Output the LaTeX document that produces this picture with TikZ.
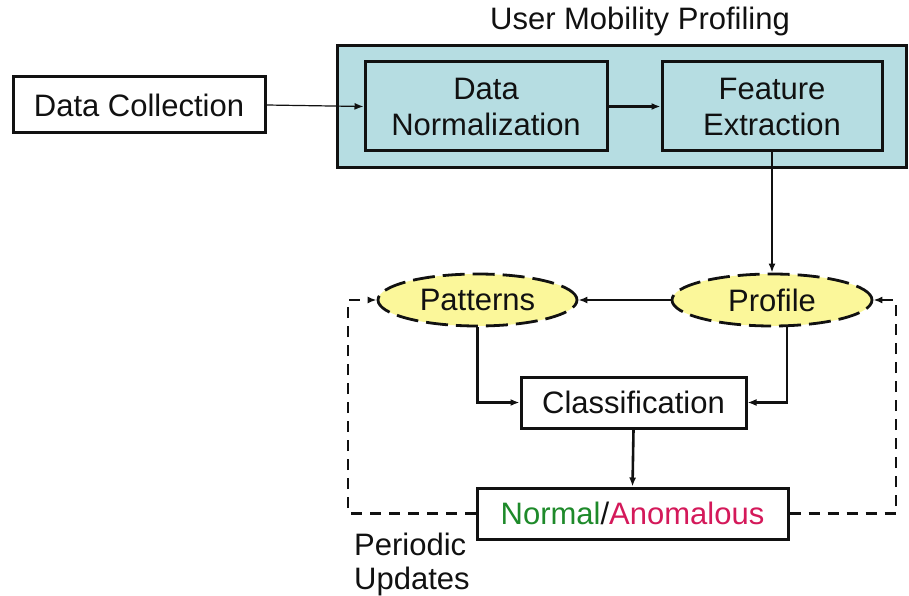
\documentclass[tikz,border=0pt]{standalone}
\usepackage{fontspec}
\setmainfont{Liberation Sans}
\usetikzlibrary{arrows.meta,shapes.geometric}
\definecolor{umteal}  {HTML}{B6DDE2}
\definecolor{umyellow}{HTML}{FBF79A}
\definecolor{umgreen} {HTML}{1E8A2A}
\definecolor{umred}   {HTML}{D4195A}
\definecolor{umink}   {HTML}{111111}
\tikzset{
  umfont/.style={font=\fontsize{31}{36}\selectfont, text=umink},
  umbox/.style={umfont, draw=umink, line width=3pt, inner sep=0pt,
    align=center},
  umoval/.style={umfont, ellipse, draw=umink, fill=umyellow, line width=2.8pt,
    dash pattern=on 22pt off 8pt, inner sep=0pt},
  umarrow/.style={draw=umink, line width=2.6pt, -{Latex[length=9pt,width=7pt]}},
  umdash/.style={draw=umink, line width=2.8pt, dash pattern=on 11pt off 8pt,
    -{Latex[length=9pt,width=7pt]}}
}
\begin{document}
\begin{tikzpicture}[x=1pt,y=-1pt]
  \useasboundingbox (0,0) rectangle (909,596);
  % profiling block
  \node[umbox, fill=umteal, minimum width=569, minimum height=122]
    (ump) at (621.5,107) {};
  \node[umfont] (umptitle) at (640,21) {User Mobility Profiling};
  \node[umbox, fill=umteal, minimum width=242, minimum height=89]
    (dnorm) at (486,106.5) {Data\\Normalization};
  \node[umbox, fill=umteal, minimum width=220, minimum height=89]
    (fext) at (772,106.5) {Feature\\Extraction};
  \node[umbox, fill=white, minimum width=252, minimum height=56]
    (dcoll) at (139,105) {Data Collection};
  % profile and patterns
  \node[umoval, minimum width=200, minimum height=52]
    (prof) at (772,300) {Profile};
  \node[umoval, minimum width=199, minimum height=52]
    (patt) at (477.5,300) {Patterns};
  \node[umbox, fill=white, minimum width=225, minimum height=51]
    (clsf) at (633.5,402.5) {Classification};
  \node[umbox, fill=white, minimum width=311, minimum height=51]
    (nrml) at (632.5,513.5)
    {\textcolor{umgreen}{Normal}/\textcolor{umred}{Anomalous}};
  \node[umfont, font=\fontsize{31}{34}\selectfont, align=left,
    anchor=north west, inner sep=0pt] (upd) at (354,533) {Periodic\\Updates};
  \coordinate (lftx) at (348,0);
  \coordinate (rgtx) at (896,0);
  % connectors
  \draw[umarrow, line width=1.2pt] (dcoll.east) -- (dnorm.west);
  \draw[umarrow] (dnorm.east) -- (fext.west);
  \draw[umarrow] (fext.south) -- (prof.north);
  \draw[umarrow] (prof.west) -- (patt.east);
  \draw[umarrow] (patt.south) |- (clsf.west);
  \draw[umarrow] ([xshift=15pt]prof.south) |- (clsf.east);
  \draw[umarrow] (clsf.south) -- (nrml.north);
  \draw[umdash] (nrml.west) -- (nrml.west -| lftx) |- (patt.west);
  \draw[umdash] (nrml.east) -- (nrml.east -| rgtx) |- (prof.east);
\end{tikzpicture}
\end{document}
